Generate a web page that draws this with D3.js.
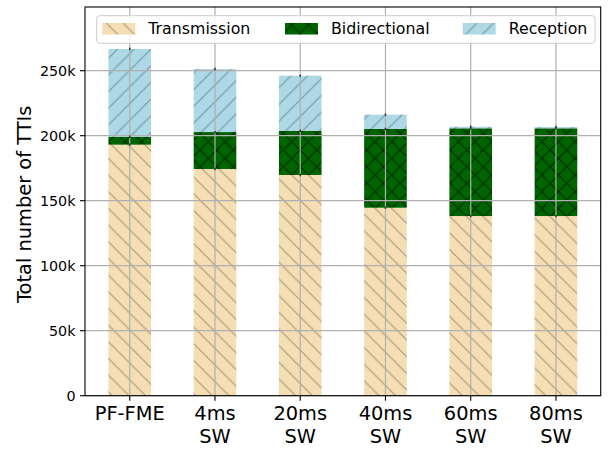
<!DOCTYPE html>
<html>
<head>
<meta charset="utf-8">
<script src="https://cdn.jsdelivr.net/npm/d3@7"></script>
<style>
  body { margin: 0; background: #fff; }
  text { font-family: "DejaVu Sans", sans-serif; }
</style>
</head>
<body>
<div id="chart"></div>
<script>
// categories (second line after the newline)
const categories = ["PF-FME", "4ms\nSW", "20ms\nSW", "40ms\nSW", "60ms\nSW", "80ms\nSW"];
const transmission = [193100, 174400, 169800, 144600, 138200, 138200];
const bidirectional = [6100, 28400, 34000, 60600, 67500, 67500];
const reception = [67500, 48500, 42400, 11000, 1200, 1000];
const errTop = [900, 900, 900, 900, 900, 900];
const yTicks = [0, 50000, 100000, 150000, 200000, 250000];
const yTickLabels = ["0", "50k", "100k", "150k", "200k", "250k"];

const width = 608, height = 452;
const margin = { left: 85, right: 7.3, top: 7, bottom: 56.3 };

const svg = d3.select("#chart").append("svg")
  .attr("width", width)
  .attr("height", height);

const x = d3.scalePoint()
  .domain(categories)
  .range([margin.left, width - margin.right])
  .padding(0.525);

const y = d3.scaleLinear()
  .domain([0, 299000])
  .range([height - margin.bottom, margin.top]);

const barW = x.step() * 0.5;

// hatch patterns
const defs = svg.append("defs");
const s = 16.67;
function hatch(id, bg, stroke, dirs) {
  const p = defs.append("pattern")
    .attr("id", id)
    .attr("patternUnits", "userSpaceOnUse")
    .attr("width", s).attr("height", s);
  p.append("rect").attr("width", s).attr("height", s).attr("fill", bg);
  dirs.forEach(d => {
    const segs = d === "/"
      ? [[0, s, s, 0], [-s / 2, s / 2, s / 2, -s / 2], [s / 2, s * 1.5, s * 1.5, s / 2]]
      : [[0, 0, s, s], [-s / 2, s / 2, s / 2, s * 1.5], [s / 2, -s / 2, s * 1.5, s / 2]];
    segs.forEach(l => p.append("line")
      .attr("x1", l[0]).attr("y1", l[1]).attr("x2", l[2]).attr("y2", l[3])
      .attr("stroke", stroke).attr("stroke-width", 1));
  });
}
hatch("hT", "#f5deb3", "#a69477", ["\\"]);
hatch("hB", "#006400", "#002a00", ["/", "\\"]);
hatch("hR", "#add8e6", "#7393a2", ["/"]);

const series = [
  { name: "Transmission", values: transmission, fill: "url(#hT)" },
  { name: "Bidirectional", values: bidirectional, fill: "url(#hB)" },
  { name: "Reception", values: reception, fill: "url(#hR)" }
];

// stacked bars
const g = svg.append("g");
categories.forEach((c, i) => {
  let base = 0;
  series.forEach(sr => {
    const v = sr.values[i];
    g.append("rect")
      .attr("x", x(c) - barW / 2)
      .attr("y", y(base + v))
      .attr("width", barW)
      .attr("height", y(base) - y(base + v))
      .attr("fill", sr.fill);
    base += v;
  });
});

// grid on top of bars
const grid = svg.append("g").attr("stroke", "#b0b0b0").attr("stroke-width", 1.2);
yTicks.forEach(t => {
  grid.append("line")
    .attr("x1", margin.left).attr("x2", width - margin.right)
    .attr("y1", y(t)).attr("y2", y(t));
});
categories.forEach(c => {
  grid.append("line")
    .attr("x1", x(c)).attr("x2", x(c))
    .attr("y1", margin.top).attr("y2", height - margin.bottom);
});

// small error marks at segment tops
categories.forEach((c, i) => {
  let base = 0;
  series.forEach(sr => {
    base += sr.values[i];
    svg.append("line")
      .attr("x1", x(c)).attr("x2", x(c))
      .attr("y1", y(base - errTop[i])).attr("y2", y(base + errTop[i]))
      .attr("stroke", "#333").attr("stroke-width", 1.5);
  });
});

// frame
svg.append("rect")
  .attr("x", margin.left).attr("y", margin.top)
  .attr("width", width - margin.left - margin.right)
  .attr("height", height - margin.top - margin.bottom)
  .attr("fill", "none").attr("stroke", "#000").attr("stroke-width", 1.1);

// y axis
const yAxis = svg.append("g");
yTicks.forEach((t, i) => {
  yAxis.append("line")
    .attr("x1", margin.left - 5).attr("x2", margin.left)
    .attr("y1", y(t)).attr("y2", y(t))
    .attr("stroke", "#000").attr("stroke-width", 1.1);
  yAxis.append("text")
    .attr("x", margin.left - 9.5).attr("y", y(t))
    .attr("dy", "0.36em")
    .attr("text-anchor", "end")
    .attr("font-size", "14.3px")
    .text(yTickLabels[i]);
});

svg.append("text")
  .attr("transform", `translate(31,${(margin.top + height - margin.bottom) / 2 + 3}) rotate(-90)`)
  .attr("text-anchor", "middle")
  .attr("font-size", "19.4px")
  .text("Total number of TTIs");

// x axis
const xAxis = svg.append("g");
categories.forEach(c => {
  xAxis.append("line")
    .attr("x1", x(c)).attr("x2", x(c))
    .attr("y1", height - margin.bottom).attr("y2", height - margin.bottom + 5)
    .attr("stroke", "#000").attr("stroke-width", 1.1);
  const t = xAxis.append("text")
    .attr("text-anchor", "middle")
    .attr("font-size", "19.4px");
  c.split("\n").forEach((line, k) => {
    t.append("tspan")
      .attr("x", x(c))
      .attr("y", 420 + k * 22.5)
      .text(line);
  });
});

// legend
const lg = svg.append("g");
lg.append("rect")
  .attr("x", 96.7).attr("y", 15.7)
  .attr("width", 498.3).attr("height", 27.6)
  .attr("rx", 3)
  .attr("fill", "rgba(255,255,255,0.8)")
  .attr("stroke", "#cccccc").attr("stroke-width", 1);
const legendX = [102.3, 285, 462.7];
series.forEach((sr, i) => {
  lg.append("rect")
    .attr("x", legendX[i]).attr("y", 23)
    .attr("width", 33).attr("height", 11.5)
    .attr("fill", sr.fill);
  lg.append("text")
    .attr("x", legendX[i] + 46).attr("y", 34)
    .attr("font-size", "15.8px")
    .text(sr.name);
});
</script>
</body>
</html>
